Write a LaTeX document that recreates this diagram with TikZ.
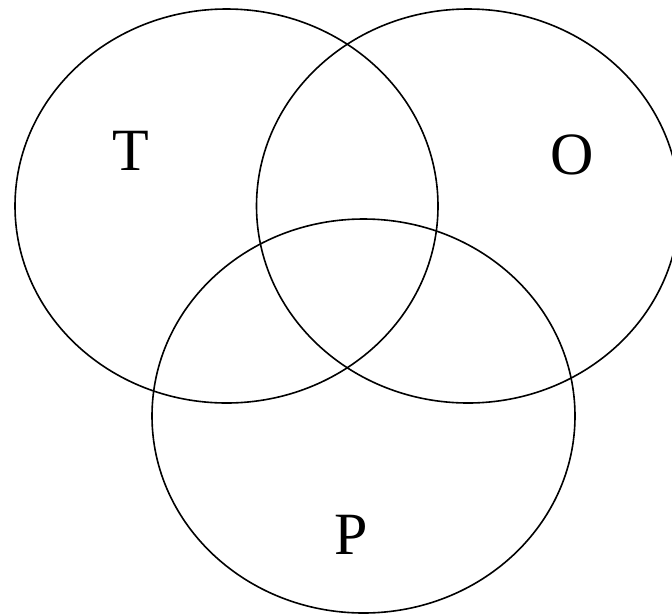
\documentclass[tikz,border=0pt]{standalone}
\usepackage{fontspec}
\setmainfont{Liberation Serif}
\usetikzlibrary{shapes.geometric}
\begin{document}
\begin{tikzpicture}[x=1pt,y=-1pt,
  setring/.style={draw=black, line width=1.6pt, ellipse, minimum width=423pt, minimum height=394pt, inner sep=0pt},
  setlabel/.style={inner sep=0pt, font=\fontsize{60}{72}\selectfont}]
\useasboundingbox (0,0) rectangle (672,614);
\clip (0,0) rectangle (672,614);
\node[setring] (T) at (226.5,206) {};
\node[setring] (O) at (468,206) {};
\node[setring] (P) at (363.5,416) {};
\node[setlabel] (tl) at (130.5,151) {T};
\node[setlabel] (ol) at (572,155) {O};
\node[setlabel] (pl) at (351,535) {P};
\end{tikzpicture}
\end{document}
